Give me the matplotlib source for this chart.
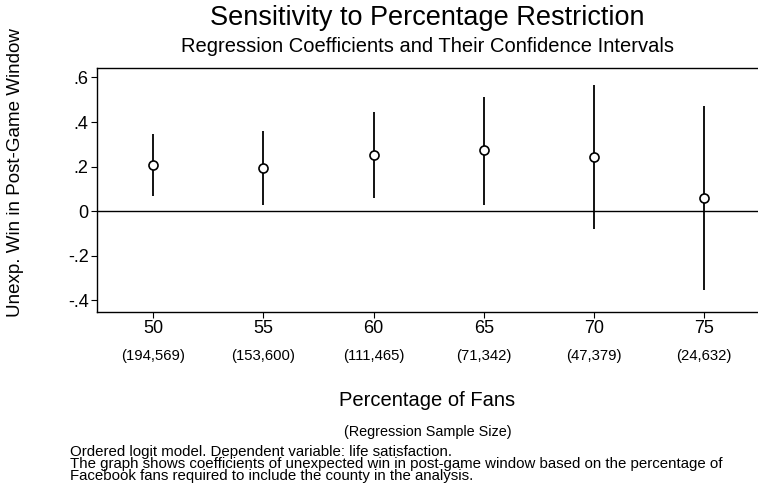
import matplotlib
matplotlib.use("Agg")
import matplotlib.pyplot as plt
import matplotlib.transforms as mtransforms

plt.rcParams["font.family"] = ["Liberation Sans", "DejaVu Sans"]

# percentage of fans required, coefficient and 95% CI
pct = [50, 55, 60, 65, 70, 75]
coef = [0.206, 0.192, 0.252, 0.273, 0.245, 0.061]
ci_low = [0.069, 0.028, 0.060, 0.030, -0.079, -0.352]
ci_high = [0.345, 0.358, 0.446, 0.513, 0.568, 0.474]
sample_size = ["(194,569)", "(153,600)", "(111,465)", "(71,342)", "(47,379)", "(24,632)"]
yticks = [-0.4, -0.2, 0, 0.2, 0.4, 0.6]
ytick_labels = ["-.4", "-.2", "0", ".2", ".4", ".6"]

fig = plt.figure(figsize=(7.58, 4.92), dpi=100)
ax = fig.add_axes([0.128, 0.366, 0.872, 0.496])

ax.vlines(pct, ci_low, ci_high, color="black", linewidth=1.3)
ax.plot(pct, coef, linestyle="none", marker="o", markersize=6.5,
        markerfacecolor="white", markeredgecolor="black", markeredgewidth=1.2)
ax.axhline(0, color="black", linewidth=1.0)

ax.set_xlim(47.45, 77.45)
ax.set_ylim(-0.452, 0.643)
ax.set_xticks(pct)
ax.set_xticklabels([str(p) for p in pct], fontsize=13)
ax.set_yticks(yticks)
ax.set_yticklabels(ytick_labels, fontsize=13)
ax.tick_params(direction="out", length=4, width=0.8, pad=2)
ax.spines["right"].set_visible(False)
for s in ["left", "top", "bottom"]:
    ax.spines[s].set_linewidth(1.0)

# y label sits a bit above the axes centre in the reference
fig.text(16 / 758, 1 - 173 / 492, "Unexp. Win in Post-Game Window",
         rotation=90, ha="center", va="center", fontsize=13.5)

trans = mtransforms.blended_transform_factory(ax.transData, fig.transFigure)
for p, s in zip(pct, sample_size):
    ax.text(p, 1 - 356 / 492, s, transform=trans, ha="center", va="center", fontsize=10.7)

xc = 0.5 * (0.128 + 1.0)
fig.text(xc, 1 - 18 / 492, "Sensitivity to Percentage Restriction",
         ha="center", va="center", fontsize=19.5)
fig.text(xc, 1 - 47 / 492, "Regression Coefficients and Their Confidence Intervals",
         ha="center", va="center", fontsize=14.5)
fig.text(xc, 1 - 400 / 492, "Percentage of Fans",
         ha="center", va="center", fontsize=14.5)
fig.text(xc, 1 - 432 / 492, "(Regression Sample Size)",
         ha="center", va="center", fontsize=10.4)

notes = ("Ordered logit model. Dependent variable: life satisfaction.\n"
         "The graph shows coefficients of unexpected win in post-game window based on the percentage of\n"
         "Facebook fans required to include the county in the analysis.")
fig.text(70 / 758, 1 - 445 / 492, notes, ha="left", va="top", fontsize=10.8, linespacing=0.82)

fig.savefig("out.png", dpi=100)
